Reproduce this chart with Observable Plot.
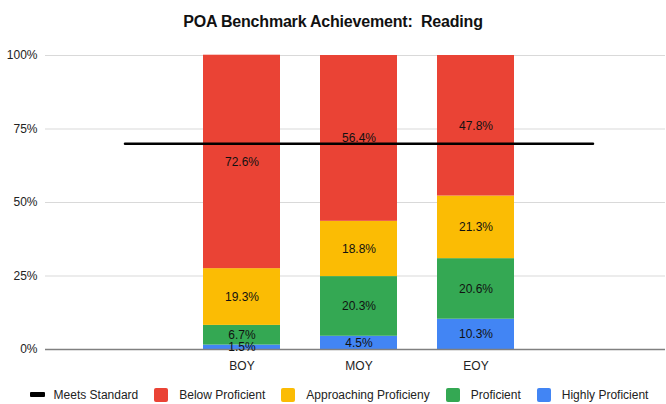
<!DOCTYPE html>
<html>
<head>
<meta charset="utf-8">
<script src="https://cdn.jsdelivr.net/npm/d3@7"></script>
<script src="https://cdn.jsdelivr.net/npm/@observablehq/plot@0.6"></script>
<style>
  html, body { margin: 0; padding: 0; background: #fff; }
  body { width: 666px; height: 404px; overflow: hidden; font-family: "Liberation Sans", Arial, sans-serif; color: #222; }
  #title { height: 40px; line-height: 43px; text-align: center; font-weight: bold; font-size: 16px; letter-spacing: -0.2px; white-space: pre; color: #111; }
  #chart svg { display: block; }
  #legend { height: 19px; padding-left: 12px; display: flex; justify-content: center; align-items: center; font-size: 12px; color: #222; white-space: nowrap; }
  .item { display: flex; align-items: center; margin: 0 8px; }
  .sw { width: 14px; height: 14px; border-radius: 2px; margin-right: 11px; }
  .ln { width: 15px; height: 5px; border-radius: 1px; background: #000; margin-right: 9px; }
</style>
</head>
<body>
<div id="title"></div>
<div id="chart"></div>
<div id="legend"></div>
<script>
const titleText = "POA Benchmark Achievement:  Reading";
const categories = ["", "BOY", "MOY", "EOY", " "];
const periods = ["BOY", "MOY", "EOY"];
// series from bottom to top of each stack
const seriesNames = ["Highly Proficient", "Proficient", "Approaching Proficieny", "Below Proficient"];
const seriesColors = ["#4285f4", "#34a853", "#fbbc04", "#ea4335"];
const highlyProficient = [1.5, 4.5, 10.3];
const proficient = [6.7, 20.3, 20.6];
const approachingProficiency = [19.3, 18.8, 21.3];
const belowProficient = [72.6, 56.4, 47.8];
const meetsStandard = [70, 70, 70, 70, 70];
const yTicks = [0, 25, 50, 75, 100];
const legendOrder = ["Below Proficient", "Approaching Proficieny", "Proficient", "Highly Proficient"];

document.getElementById("title").textContent = titleText;

const seriesValues = [highlyProficient, proficient, approachingProficiency, belowProficient];
const rows = [];
periods.forEach((p, i) => {
  seriesNames.forEach((s, j) => rows.push({period: p, series: s, value: seriesValues[j][i]}));
});
const lineRows = categories.map((c, i) => ({period: c, value: meetsStandard[i]}));

const chart = Plot.plot({
  width: 666,
  height: 345,
  marginTop: 15,
  marginBottom: 36,
  marginLeft: 45,
  marginRight: 1,
  style: {fontFamily: "'Liberation Sans', Arial, sans-serif", fontSize: "12px", color: "#222", background: "#fff"},
  x: {domain: categories, range: [66.5, 651.5], paddingInner: 0.34, paddingOuter: 0.17, tickSize: 0, tickPadding: 12, tickFormat: d => d.trim(), label: null},
  y: {domain: [0, 100], ticks: yTicks, tickSize: 0, tickPadding: 8, tickFormat: d => d + "%", label: null},
  color: {domain: seriesNames, range: seriesColors},
  marks: [
    Plot.ruleY(yTicks.slice(1), {stroke: "#d9d9d9", strokeWidth: 1}),
    Plot.barY(rows, Plot.stackY({x: "period", y: "value", z: "series", fill: "series", inset: 0})),
    Plot.ruleY([0], {stroke: "#808080", strokeWidth: 1.5}),
    Plot.lineY(lineRows, {x: "period", y: "value", stroke: "#000", strokeWidth: 2.5}),
    Plot.text(rows, Plot.stackY({x: "period", y: "value", z: "series", text: d => d.value.toFixed(1) + "%", fill: "#111", fontSize: 12}))
  ]
});
document.getElementById("chart").appendChild(chart);

const legend = document.getElementById("legend");
const mkItem = (marker, label) => {
  const it = document.createElement("div");
  it.className = "item";
  it.appendChild(marker);
  const t = document.createElement("span");
  t.textContent = label;
  it.appendChild(t);
  legend.appendChild(it);
};
const lm = document.createElement("div"); lm.className = "ln";
mkItem(lm, "Meets Standard");
legendOrder.forEach(s => {
  const sw = document.createElement("div");
  sw.className = "sw";
  sw.style.background = seriesColors[seriesNames.indexOf(s)];
  mkItem(sw, s);
});
</script>
</body>
</html>
